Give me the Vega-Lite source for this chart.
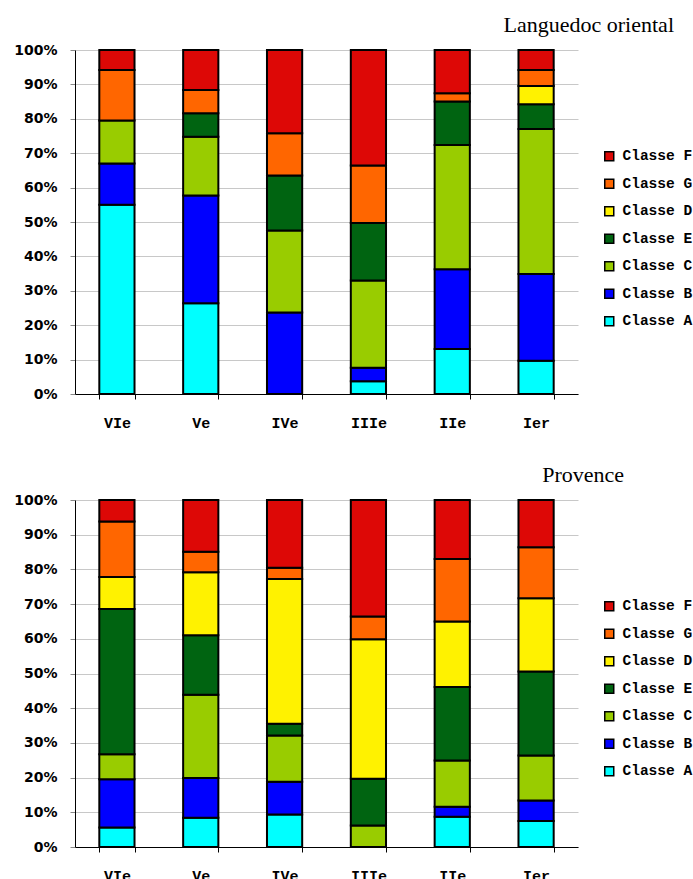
{
  "$schema": "https://vega.github.io/schema/vega-lite/v6.json",
  "background": "white",
  "padding": {"left": 13, "top": 14, "right": 0, "bottom": 0},
  "spacing": 34,
  "config": {
    "view": {"stroke": null},
    "axisX": {"title": null, "labelAngle": 0, "tickBand": "extent", "domainColor": "black", "tickColor": "black", "tickSize": 5, "labelFont": "Liberation Mono", "labelFontWeight": "bold", "labelFontSize": 15, "labelColor": "black", "labelPadding": 16, "labelBaseline": "top"},
    "axisY": {"title": null, "grid": true, "gridColor": "#c8c8c8", "domainColor": "black", "tickColor": "#888888", "tickSize": 5, "labelFont": "DejaVu Sans", "labelFontWeight": "bold", "labelFontSize": 14, "labelColor": "black", "labelPadding": 13, "values": [0, 0.1, 0.2, 0.3, 0.4, 0.5, 0.6, 0.7, 0.8, 0.9, 1], "format": ".0%"},
    "legend": {"title": null, "orient": "none", "legendX": 527, "legendY": 99, "symbolType": "square", "symbolSize": 81, "symbolStrokeColor": "black", "symbolStrokeWidth": 1.5, "symbolOpacity": 1, "labelFont": "Liberation Mono", "labelFontWeight": "bold", "labelFontSize": 14.5, "labelColor": "black", "rowPadding": 11.5, "labelOffset": 6},
    "title": {"font": "Liberation Serif", "fontSize": 22, "fontWeight": "normal", "color": "black", "anchor": "end", "frame": "group", "baseline": "alphabetic", "offset": 6}
  },
  "data": {"values": [
    {"region": "L", "periode": "VIe", "classe": "Classe A", "rang": 1, "part": 55},
    {"region": "L", "periode": "VIe", "classe": "Classe B", "rang": 2, "part": 12},
    {"region": "L", "periode": "VIe", "classe": "Classe C", "rang": 3, "part": 12.5},
    {"region": "L", "periode": "VIe", "classe": "Classe G", "rang": 6, "part": 14.7},
    {"region": "L", "periode": "VIe", "classe": "Classe F", "rang": 7, "part": 5.8},
    {"region": "L", "periode": "Ve", "classe": "Classe A", "rang": 1, "part": 26.4},
    {"region": "L", "periode": "Ve", "classe": "Classe B", "rang": 2, "part": 31.3},
    {"region": "L", "periode": "Ve", "classe": "Classe C", "rang": 3, "part": 17.1},
    {"region": "L", "periode": "Ve", "classe": "Classe E", "rang": 4, "part": 6.8},
    {"region": "L", "periode": "Ve", "classe": "Classe G", "rang": 6, "part": 6.8},
    {"region": "L", "periode": "Ve", "classe": "Classe F", "rang": 7, "part": 11.6},
    {"region": "L", "periode": "IVe", "classe": "Classe B", "rang": 2, "part": 23.7},
    {"region": "L", "periode": "IVe", "classe": "Classe C", "rang": 3, "part": 23.8},
    {"region": "L", "periode": "IVe", "classe": "Classe E", "rang": 4, "part": 16},
    {"region": "L", "periode": "IVe", "classe": "Classe G", "rang": 6, "part": 12.3},
    {"region": "L", "periode": "IVe", "classe": "Classe F", "rang": 7, "part": 24.2},
    {"region": "L", "periode": "IIIe", "classe": "Classe A", "rang": 1, "part": 3.7},
    {"region": "L", "periode": "IIIe", "classe": "Classe B", "rang": 2, "part": 3.9},
    {"region": "L", "periode": "IIIe", "classe": "Classe C", "rang": 3, "part": 25.4},
    {"region": "L", "periode": "IIIe", "classe": "Classe E", "rang": 4, "part": 16.7},
    {"region": "L", "periode": "IIIe", "classe": "Classe G", "rang": 6, "part": 16.7},
    {"region": "L", "periode": "IIIe", "classe": "Classe F", "rang": 7, "part": 33.6},
    {"region": "L", "periode": "IIe", "classe": "Classe A", "rang": 1, "part": 13.1},
    {"region": "L", "periode": "IIe", "classe": "Classe B", "rang": 2, "part": 23.2},
    {"region": "L", "periode": "IIe", "classe": "Classe C", "rang": 3, "part": 36.1},
    {"region": "L", "periode": "IIe", "classe": "Classe E", "rang": 4, "part": 12.6},
    {"region": "L", "periode": "IIe", "classe": "Classe G", "rang": 6, "part": 2.4},
    {"region": "L", "periode": "IIe", "classe": "Classe F", "rang": 7, "part": 12.6},
    {"region": "L", "periode": "Ier", "classe": "Classe A", "rang": 1, "part": 9.7},
    {"region": "L", "periode": "Ier", "classe": "Classe B", "rang": 2, "part": 25.2},
    {"region": "L", "periode": "Ier", "classe": "Classe C", "rang": 3, "part": 42.1},
    {"region": "L", "periode": "Ier", "classe": "Classe E", "rang": 4, "part": 7.2},
    {"region": "L", "periode": "Ier", "classe": "Classe D", "rang": 5, "part": 5.3},
    {"region": "L", "periode": "Ier", "classe": "Classe G", "rang": 6, "part": 4.7},
    {"region": "L", "periode": "Ier", "classe": "Classe F", "rang": 7, "part": 5.8},
    {"region": "P", "periode": "VIe", "classe": "Classe A", "rang": 1, "part": 5.6},
    {"region": "P", "periode": "VIe", "classe": "Classe B", "rang": 2, "part": 13.9},
    {"region": "P", "periode": "VIe", "classe": "Classe C", "rang": 3, "part": 7.2},
    {"region": "P", "periode": "VIe", "classe": "Classe E", "rang": 4, "part": 41.9},
    {"region": "P", "periode": "VIe", "classe": "Classe D", "rang": 5, "part": 9.2},
    {"region": "P", "periode": "VIe", "classe": "Classe G", "rang": 6, "part": 16},
    {"region": "P", "periode": "VIe", "classe": "Classe F", "rang": 7, "part": 6.2},
    {"region": "P", "periode": "Ve", "classe": "Classe A", "rang": 1, "part": 8.4},
    {"region": "P", "periode": "Ve", "classe": "Classe B", "rang": 2, "part": 11.5},
    {"region": "P", "periode": "Ve", "classe": "Classe C", "rang": 3, "part": 24},
    {"region": "P", "periode": "Ve", "classe": "Classe E", "rang": 4, "part": 17.1},
    {"region": "P", "periode": "Ve", "classe": "Classe D", "rang": 5, "part": 18.2},
    {"region": "P", "periode": "Ve", "classe": "Classe G", "rang": 6, "part": 5.9},
    {"region": "P", "periode": "Ve", "classe": "Classe F", "rang": 7, "part": 14.9},
    {"region": "P", "periode": "IVe", "classe": "Classe A", "rang": 1, "part": 9.4},
    {"region": "P", "periode": "IVe", "classe": "Classe B", "rang": 2, "part": 9.4},
    {"region": "P", "periode": "IVe", "classe": "Classe C", "rang": 3, "part": 13.3},
    {"region": "P", "periode": "IVe", "classe": "Classe E", "rang": 4, "part": 3.4},
    {"region": "P", "periode": "IVe", "classe": "Classe D", "rang": 5, "part": 41.7},
    {"region": "P", "periode": "IVe", "classe": "Classe G", "rang": 6, "part": 3.3},
    {"region": "P", "periode": "IVe", "classe": "Classe F", "rang": 7, "part": 19.5},
    {"region": "P", "periode": "IIIe", "classe": "Classe C", "rang": 3, "part": 6.2},
    {"region": "P", "periode": "IIIe", "classe": "Classe E", "rang": 4, "part": 13.5},
    {"region": "P", "periode": "IIIe", "classe": "Classe D", "rang": 5, "part": 40.2},
    {"region": "P", "periode": "IIIe", "classe": "Classe G", "rang": 6, "part": 6.5},
    {"region": "P", "periode": "IIIe", "classe": "Classe F", "rang": 7, "part": 33.6},
    {"region": "P", "periode": "IIe", "classe": "Classe A", "rang": 1, "part": 8.7},
    {"region": "P", "periode": "IIe", "classe": "Classe B", "rang": 2, "part": 2.9},
    {"region": "P", "periode": "IIe", "classe": "Classe C", "rang": 3, "part": 13.3},
    {"region": "P", "periode": "IIe", "classe": "Classe E", "rang": 4, "part": 21.2},
    {"region": "P", "periode": "IIe", "classe": "Classe D", "rang": 5, "part": 18.9},
    {"region": "P", "periode": "IIe", "classe": "Classe G", "rang": 6, "part": 18},
    {"region": "P", "periode": "IIe", "classe": "Classe F", "rang": 7, "part": 17},
    {"region": "P", "periode": "Ier", "classe": "Classe A", "rang": 1, "part": 7.5},
    {"region": "P", "periode": "Ier", "classe": "Classe B", "rang": 2, "part": 5.9},
    {"region": "P", "periode": "Ier", "classe": "Classe C", "rang": 3, "part": 13},
    {"region": "P", "periode": "Ier", "classe": "Classe E", "rang": 4, "part": 24.2},
    {"region": "P", "periode": "Ier", "classe": "Classe D", "rang": 5, "part": 21.1},
    {"region": "P", "periode": "Ier", "classe": "Classe G", "rang": 6, "part": 14.7},
    {"region": "P", "periode": "Ier", "classe": "Classe F", "rang": 7, "part": 13.6}
  ]},
  "resolve": {"legend": {"color": "independent"}},
  "vconcat": [
    {
      "title": {"text": "Languedoc oriental", "dx": 96},
      "width": 503,
      "height": 344,
      "transform": [{"filter": "datum.region === 'L'"}],
      "mark": {"type": "bar", "stroke": "black", "strokeWidth": 2},
      "encoding": {
        "x": {"field": "periode", "type": "nominal", "sort": ["VIe", "Ve", "IVe", "IIIe", "IIe", "Ier"], "scale": {"paddingInner": 0.58, "paddingOuter": 0.29}},
        "y": {"field": "part", "type": "quantitative", "stack": "normalize", "scale": {"domain": [0, 1], "nice": false}},
        "color": {"field": "classe", "type": "nominal", "scale": {"domain": ["Classe F", "Classe G", "Classe D", "Classe E", "Classe C", "Classe B", "Classe A"], "range": ["#dd0806", "#ff6600", "#fff200", "#006411", "#99cc00", "#0000ff", "#00ffff"]}},
        "order": {"field": "rang", "type": "quantitative"}
      }
    },
    {
      "title": {"text": "Provence", "dx": 46},
      "width": 503,
      "height": 347,
      "transform": [{"filter": "datum.region === 'P'"}],
      "mark": {"type": "bar", "stroke": "black", "strokeWidth": 2},
      "encoding": {
        "x": {"field": "periode", "type": "nominal", "sort": ["VIe", "Ve", "IVe", "IIIe", "IIe", "Ier"], "scale": {"paddingInner": 0.58, "paddingOuter": 0.29}},
        "y": {"field": "part", "type": "quantitative", "stack": "normalize", "scale": {"domain": [0, 1], "nice": false}},
        "color": {"field": "classe", "type": "nominal", "scale": {"domain": ["Classe F", "Classe G", "Classe D", "Classe E", "Classe C", "Classe B", "Classe A"], "range": ["#dd0806", "#ff6600", "#fff200", "#006411", "#99cc00", "#0000ff", "#00ffff"]}},
        "order": {"field": "rang", "type": "quantitative"}
      }
    }
  ]
}
